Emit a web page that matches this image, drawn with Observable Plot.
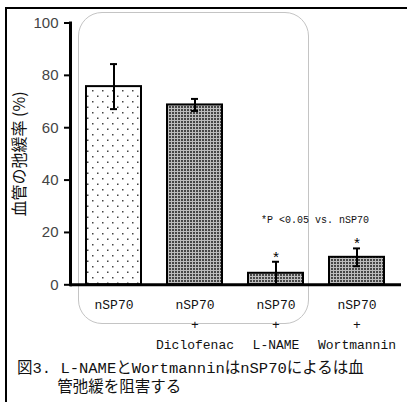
<!DOCTYPE html>
<html><head><meta charset="utf-8">
<script src="https://cdn.jsdelivr.net/npm/d3@7"></script>
<script src="https://cdn.jsdelivr.net/npm/@observablehq/plot@0.6"></script>
<style>
body{margin:0;background:#fff;}
#wrap{position:relative;width:407px;height:402px;overflow:hidden;background:#fff;}
#chart{position:absolute;left:0;top:0;}
.border{position:absolute;left:5px;top:7px;width:420px;height:420px;border-top:2px solid #000;border-left:2px solid #000;}
.deco{position:absolute;left:78px;top:12px;width:229px;height:310px;border:1px solid #c4c4c4;border-radius:24px;}
#cap{position:absolute;left:17px;top:360px;font-family:"Liberation Mono","Noto Sans CJK JP";font-size:15.5px;color:#111;white-space:pre;line-height:19px;}
</style></head><body>
<div id="wrap">
<div class="deco"></div>
<div id="chart"></div>
<div class="border"></div>
<div id="cap"></div>
</div>
<script>
// ---- data ----
const groups = ["nSP70", "nSP70 + Diclofenac", "nSP70 + L-NAME", "nSP70 + Wortmannin"];
const tickLabels = ["nSP70", "nSP70\n+\nDiclofenac", "nSP70\n+\nL-NAME", "nSP70\n+\nWortmannin"];
const means = [75.7, 68.7, 4.4, 10.5];
const errors = [8.6, 2.3, 4.4, 3.4];
const significance = ["", "", "*", "*"];
const yTicks = [0, 20, 40, 60, 80, 100];
const yLabel = "血管の弛緩率 (%)";
const note = "*P <0.05 vs. nSP70";
const noteAt = {group: groups[2], value: 25};
const caption = ["図3. L-NAMEとWortmanninはnSP70によるは血", "\u3000\u3000 管弛緩を阻害する"];

const rows = groups.map((g, i) => ({group: g, mean: means[i], err: errors[i], sig: significance[i]}));

const svg = Plot.plot({
  width: 407,
  height: 360,
  marginLeft: 70,
  marginRight: 6,
  marginTop: 22.5,
  marginBottom: 75.7,
  style: {background: "transparent", color: "#000"},
  x: {domain: groups, paddingInner: 0.315, paddingOuter: 0.184, axis: null},
  y: {domain: [0, 100], axis: null},
  marks: [
    Plot.barY(rows.slice(0, 1), {x: "group", y: "mean", fill: "url(#dots)", stroke: "#000", strokeWidth: 2}),
    Plot.barY(rows.slice(1), {x: "group", y: "mean", fill: "url(#grid)", stroke: "#000", strokeWidth: 2}),
    Plot.ruleX(rows, {x: "group", y1: d => d.mean - d.err, y2: d => d.mean + d.err, stroke: "#000", strokeWidth: 2}),
    Plot.tickY(rows, {x: "group", y: d => d.mean + d.err, inset: 24, stroke: "#000", strokeWidth: 2}),
    Plot.tickY(rows, {x: "group", y: d => d.mean - d.err, inset: 24, stroke: "#000", strokeWidth: 2}),
    Plot.ruleY([0], {stroke: "#000", strokeWidth: 3}),
    Plot.frame({anchor: "left", stroke: "#000", strokeWidth: 3}),
    Plot.axisY({ticks: yTicks, tickSize: 6, tickPadding: 6, stroke: "#000", strokeWidth: 2, fill: "#444",
      fontSize: 15, fontFamily: "Liberation Sans", label: null}),
    Plot.axisX({tickFormat: d => tickLabels[groups.indexOf(d)], tickSize: 0, tickPadding: 10, lineHeight: 1.55,
      fontSize: 13, fontFamily: "Liberation Mono", fill: "#111", label: null}),
    Plot.text([yLabel], {frameAnchor: "left", textAnchor: "middle", rotate: -90, dx: -51, fontSize: 16,
      fontFamily: "Noto Sans CJK JP", fill: "#111"}),
    Plot.text(rows.filter(d => d.sig), {x: "group", y: d => d.mean + d.err, text: "sig", dy: -4,
      lineAnchor: "middle", fontSize: 15, fontFamily: "Liberation Mono", fill: "#000"}),
    Plot.text([noteAt], {x: "group", y: "value", text: () => note, textAnchor: "start", dx: -15,
      lineAnchor: "middle", fontSize: 10, fontFamily: "Liberation Mono", fill: "#111"})
  ]
});

const defs = d3.select(svg).insert("defs", ":first-child");
const dots = defs.append("pattern").attr("id", "dots").attr("patternUnits", "userSpaceOnUse")
  .attr("width", 10).attr("height", 11);
dots.append("rect").attr("width", 10).attr("height", 11).attr("fill", "#fff");
dots.append("rect").attr("x", 2).attr("y", 2).attr("width", 1.5).attr("height", 1.5).attr("fill", "#444");
dots.append("rect").attr("x", 7).attr("y", 7.5).attr("width", 1.5).attr("height", 1.5).attr("fill", "#444");
const grid = defs.append("pattern").attr("id", "grid").attr("patternUnits", "userSpaceOnUse")
  .attr("width", 3).attr("height", 3);
grid.append("rect").attr("width", 3).attr("height", 3).attr("fill", "#474747");
grid.append("rect").attr("width", 3).attr("height", 1).attr("fill", "#bdbdbd");
grid.append("rect").attr("width", 1).attr("height", 3).attr("fill", "#bdbdbd");

document.getElementById("chart").appendChild(svg);
document.getElementById("cap").textContent = caption.join("\n");
</script>
</body></html>
